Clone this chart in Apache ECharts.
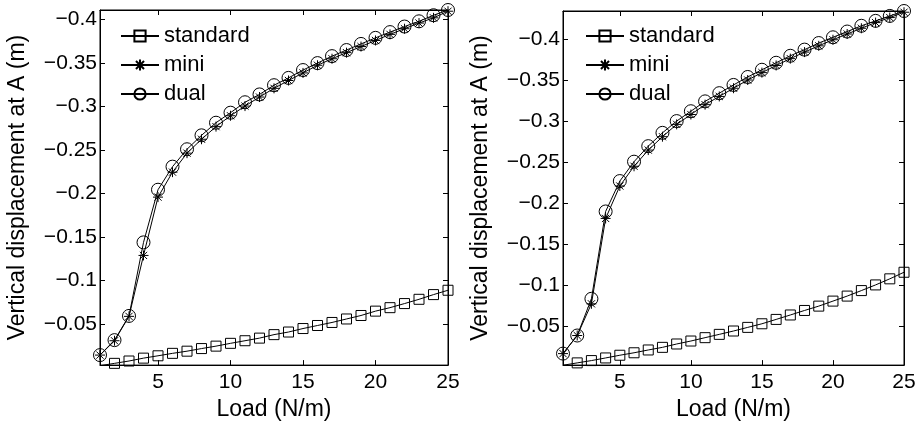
<!DOCTYPE html>
<html>
<head>
<meta charset="utf-8">
<script src="https://cdn.jsdelivr.net/npm/echarts@6/dist/echarts.min.js"></script>
<style>
  html, body { margin: 0; padding: 0; background: #fff; }
  #main { width: 919px; height: 426px; }
</style>
</head>
<body>
<div id="main"></div>
<script>
// load steps (N/m)
var loads = [1, 2, 3, 4, 5, 6, 7, 8, 9, 10, 11, 12, 13, 14, 15, 16, 17, 18, 19, 20, 21, 22, 23, 24, 25];

// left panel
var leftStandard = [-0.0023, -0.005, -0.0077, -0.011, -0.0137, -0.0165, -0.019, -0.022, -0.0248, -0.028,
    -0.031, -0.034, -0.038, -0.041, -0.045, -0.0485, -0.052, -0.056, -0.060, -0.065,
    -0.069, -0.0737, -0.0786, -0.084, -0.089];
var leftMini = [-0.0145, -0.031, -0.059, -0.129, -0.196, -0.2247, -0.2465, -0.2625, -0.277, -0.2895,
    -0.3006, -0.311, -0.321, -0.330, -0.3387, -0.3475, -0.355, -0.362, -0.369, -0.376,
    -0.383, -0.3895, -0.396, -0.402, -0.4096];
var leftDual = [-0.0145, -0.0317, -0.0595, -0.144, -0.2045, -0.231, -0.251, -0.267, -0.2815, -0.293,
    -0.305, -0.314, -0.3246, -0.333, -0.342, -0.350, -0.358, -0.365, -0.372, -0.379,
    -0.3856, -0.392, -0.398, -0.405, -0.411];

// right panel
var rightStandard = [-0.0028, -0.0057, -0.0085, -0.0117, -0.015, -0.018, -0.0214, -0.0246, -0.0287, -0.0323,
    -0.0364, -0.0404, -0.0445, -0.0489, -0.0533, -0.0586, -0.064, -0.0695, -0.0748, -0.0809,
    -0.087, -0.0937, -0.1006, -0.108, -0.116];
var rightMini = [-0.017, -0.039, -0.0776, -0.1815, -0.221, -0.245, -0.2647, -0.281, -0.296, -0.308,
    -0.320, -0.330, -0.340, -0.350, -0.359, -0.3677, -0.376, -0.384, -0.3916, -0.399,
    -0.406, -0.413, -0.4199, -0.426, -0.4325];
var rightDual = [-0.017, -0.039, -0.0837, -0.190, -0.227, -0.2506, -0.2695, -0.2857, -0.300, -0.312,
    -0.324, -0.334, -0.344, -0.3537, -0.3625, -0.371, -0.3795, -0.387, -0.395, -0.402,
    -0.409, -0.416, -0.422, -0.428, -0.434];

var xTicks = [5, 10, 15, 20, 25];
var yTicks = [-0.4, -0.35, -0.3, -0.25, -0.2, -0.15, -0.1, -0.05];

var FONT = 'Liberation Sans';
var starPath = 'path://M0,-1L0,1M-1,0L1,0M-0.72,-0.72L0.72,0.72M-0.72,0.72L0.72,-0.72';

function pairs(ys) {
    return loads.map(function (x, i) { return [x, ys[i]]; });
}

function fmtY(v) {
    return '\u2212' + String(Math.abs(Math.round(v * 1000) / 1000));
}

function xAxisCfg(grid, top) {
    return {
        type: 'value', gridIndex: grid, position: top ? 'top' : 'bottom',
        min: 1, max: 25,
        name: top ? '' : 'Load (N/m)', nameLocation: 'middle', nameGap: 29,
        nameTextStyle: { fontFamily: FONT, fontSize: 23, color: '#000' },
        axisLine: { show: true, onZero: false, lineStyle: { color: '#000', width: 1 } },
        axisTick: { show: true, inside: true, length: 5, customValues: xTicks, lineStyle: { color: '#000' } },
        axisLabel: { show: !top, customValues: xTicks, margin: 7, fontFamily: FONT, fontSize: 21, color: '#000' },
        splitLine: { show: false }
    };
}

function yAxisCfg(grid, right, yMin, yMax) {
    return {
        type: 'value', gridIndex: grid, position: right ? 'right' : 'left',
        inverse: true, min: yMin, max: yMax,
        name: right ? '' : 'Vertical displacement at A (m)', nameLocation: 'middle', nameGap: 71,
        nameTextStyle: { fontFamily: FONT, fontSize: 23, color: '#000' },
        axisLine: { show: true, onZero: false, lineStyle: { color: '#000', width: 1 } },
        axisTick: { show: true, inside: true, length: 5, customValues: yTicks, lineStyle: { color: '#000' } },
        axisLabel: { show: !right, customValues: yTicks, formatter: fmtY, margin: 3, fontFamily: FONT, fontSize: 21, color: '#000' },
        splitLine: { show: false }
    };
}

function makeSeries(name, data, grid, symbol, size) {
    return {
        name: name, type: 'line', xAxisIndex: grid, yAxisIndex: grid,
        data: pairs(data),
        symbol: symbol, symbolSize: size, showSymbol: true,
        lineStyle: { color: '#000', width: 1 },
        itemStyle: { color: 'transparent', borderColor: '#000', borderWidth: 1 },
        animation: false
    };
}

function legendCfg(left) {
    return {
        left: left, top: 20, orient: 'vertical',
        itemWidth: 38, itemHeight: 14, itemGap: 7,
        textStyle: { fontFamily: FONT, fontSize: 22, color: '#000' },
        data: ['standard', 'mini', 'dual']
    };
}

var myChart = echarts.init(document.getElementById('main'));

var option = {
    backgroundColor: '#fff',
    animation: false,
    grid: [
        { left: 100, top: 10, width: 348, height: 356, show: true, borderColor: '#000', borderWidth: 1 },
        { left: 563, top: 11, width: 341, height: 356, show: true, borderColor: '#000', borderWidth: 1 }
    ],
    legend: [legendCfg(115), legendCfg(580)],
    xAxis: [xAxisCfg(0, false), xAxisCfg(1, false), xAxisCfg(0, true), xAxisCfg(1, true)],
    yAxis: [yAxisCfg(0, false, -0.411, -0.003), yAxisCfg(1, false, -0.434, -0.003),
            yAxisCfg(0, true, -0.411, -0.003), yAxisCfg(1, true, -0.434, -0.003)],
    series: [
        makeSeries('standard', leftStandard, 0, 'rect', 10),
        makeSeries('mini', leftMini, 0, starPath, 10),
        makeSeries('dual', leftDual, 0, 'circle', 13),
        makeSeries('standard', rightStandard, 1, 'rect', 10),
        makeSeries('mini', rightMini, 1, starPath, 10),
        makeSeries('dual', rightDual, 1, 'circle', 13)
    ]
};

myChart.setOption(option);
</script>
</body>
</html>
